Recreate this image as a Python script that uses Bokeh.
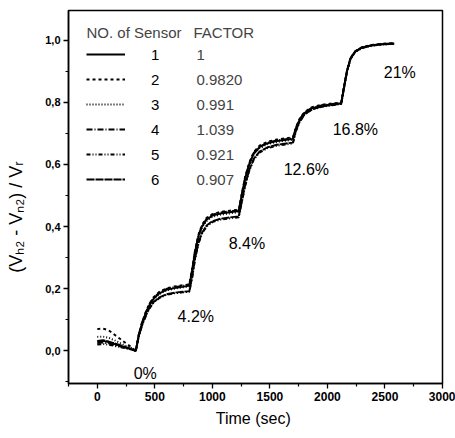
import math
from bokeh.plotting import figure
from bokeh.models import (Label, Legend, LegendItem, FixedTicker, CustomJSTickFormatter,
                          ColumnDataSource, Range1d)
from bokeh.core.properties import value
from bokeh.embed import file_html
from bokeh.resources import INLINE

# ---------------- data ----------------
time_sec = [0, 50, 100, 150, 200, 250, 300, 335,
            360, 390, 420, 450, 490, 540, 600, 670, 740, 800,
            825, 850, 880, 910, 950, 1000, 1070, 1150, 1230,
            1255, 1285, 1320, 1360, 1410, 1480, 1560, 1640, 1700,
            1725, 1760, 1800, 1860, 1950, 2040, 2120,
            2145, 2170, 2200, 2240, 2300, 2380, 2480, 2580]

sensor_1 = [0.030, 0.032, 0.028, 0.022, 0.016, 0.010, 0.005, 0.000,
            0.050, 0.090, 0.120, 0.145, 0.168, 0.185, 0.196, 0.202, 0.206, 0.210,
            0.260, 0.320, 0.370, 0.400, 0.422, 0.435, 0.442, 0.446, 0.450,
            0.500, 0.555, 0.600, 0.635, 0.655, 0.668, 0.675, 0.679, 0.682,
            0.715, 0.745, 0.765, 0.780, 0.789, 0.793, 0.797,
            0.850, 0.900, 0.940, 0.963, 0.976, 0.983, 0.987, 0.989]
sensor_2 = [0.070, 0.072, 0.066, 0.052, 0.038, 0.024, 0.011, 0.000,
            0.052, 0.093, 0.124, 0.150, 0.173, 0.190, 0.201, 0.207, 0.211, 0.214,
            0.265, 0.325, 0.375, 0.405, 0.428, 0.440, 0.447, 0.451, 0.454,
            0.505, 0.560, 0.605, 0.640, 0.660, 0.673, 0.680, 0.684, 0.687,
            0.718, 0.748, 0.768, 0.783, 0.792, 0.796, 0.799,
            0.852, 0.902, 0.942, 0.964, 0.977, 0.984, 0.988, 0.990]
sensor_3 = [0.045, 0.046, 0.042, 0.034, 0.025, 0.016, 0.008, 0.000,
            0.048, 0.088, 0.118, 0.143, 0.166, 0.183, 0.194, 0.200, 0.204, 0.207,
            0.255, 0.315, 0.365, 0.396, 0.418, 0.431, 0.438, 0.442, 0.446,
            0.497, 0.552, 0.597, 0.632, 0.652, 0.665, 0.672, 0.676, 0.679,
            0.712, 0.742, 0.763, 0.778, 0.787, 0.792, 0.796,
            0.849, 0.899, 0.939, 0.962, 0.975, 0.982, 0.986, 0.988]
sensor_4 = [0.025, 0.027, 0.024, 0.019, 0.014, 0.009, 0.004, 0.000,
            0.051, 0.092, 0.122, 0.148, 0.171, 0.188, 0.199, 0.205, 0.209, 0.212,
            0.262, 0.322, 0.372, 0.402, 0.425, 0.438, 0.445, 0.449, 0.452,
            0.502, 0.557, 0.602, 0.637, 0.657, 0.670, 0.677, 0.681, 0.684,
            0.716, 0.746, 0.766, 0.781, 0.790, 0.794, 0.798,
            0.851, 0.901, 0.941, 0.963, 0.976, 0.983, 0.987, 0.989]
sensor_5 = [0.020, 0.022, 0.020, 0.016, 0.012, 0.008, 0.004, 0.000,
            0.045, 0.082, 0.110, 0.134, 0.155, 0.170, 0.180, 0.185, 0.188, 0.190,
            0.235, 0.295, 0.345, 0.377, 0.400, 0.414, 0.422, 0.426, 0.430,
            0.475, 0.530, 0.578, 0.615, 0.638, 0.652, 0.660, 0.664, 0.667,
            0.705, 0.737, 0.759, 0.775, 0.785, 0.790, 0.794,
            0.847, 0.897, 0.938, 0.961, 0.974, 0.982, 0.986, 0.988]
sensor_6 = [0.032, 0.034, 0.030, 0.024, 0.018, 0.012, 0.006, 0.000,
            0.046, 0.084, 0.112, 0.136, 0.157, 0.172, 0.182, 0.187, 0.190, 0.192,
            0.238, 0.298, 0.348, 0.380, 0.403, 0.417, 0.425, 0.429, 0.433,
            0.478, 0.533, 0.581, 0.618, 0.641, 0.655, 0.663, 0.667, 0.670,
            0.707, 0.739, 0.760, 0.776, 0.786, 0.791, 0.795,
            0.848, 0.898, 0.939, 0.962, 0.975, 0.982, 0.986, 0.988]

sensor_ids = ["1", "2", "3", "4", "5", "6"]
factors = ["1", "0.9820", "0.991", "1.039", "0.921", "0.907"]
step_labels = ["0%", "4.2%", "8.4%", "12.6%", "16.8%", "21%"]
step_label_x = [316, 698, 1142, 1620, 2046, 2490]
step_label_y = [-0.074, 0.109, 0.344, 0.582, 0.711, 0.897]

x_major = [0, 500, 1000, 1500, 2000, 2500, 3000]
x_minor = [-250, 250, 750, 1250, 1750, 2250, 2750]
y_major = [0.0, 0.2, 0.4, 0.6, 0.8, 1.0]
y_minor = [-0.1, 0.1, 0.3, 0.5, 0.7, 0.9]

# ---------------- styles ----------------
FONT = "Liberation Sans"
dashes = ["solid", "3 3", "1 2", "6 2 1 2", "4 2 1 2 1 2", "8 1"]

p = figure(width=455, height=438,
           x_range=Range1d(-250, 3000), y_range=Range1d(-0.105, 1.095),
           output_backend="svg", toolbar_location=None,
           min_border_left=68, min_border_right=13, min_border_top=10, min_border_bottom=55)
p.background_fill_color = "white"
p.border_fill_color = "white"
p.outline_line_color = "black"
p.outline_line_width = 1.5
p.xgrid.visible = False
p.ygrid.visible = False

series = [sensor_1, sensor_2, sensor_3, sensor_4, sensor_5, sensor_6]
renderers = []
for vals, dash in zip(series, dashes):
    r = p.line(time_sec, vals, line_color="black", line_width=1.9, line_dash=dash)
    renderers.append(r)

# axes
p.xaxis.ticker = FixedTicker(ticks=x_major, minor_ticks=x_minor)
p.yaxis.ticker = FixedTicker(ticks=y_major, minor_ticks=y_minor)
p.yaxis.formatter = CustomJSTickFormatter(code="return tick.toFixed(1).replace('.', ',');")
for ax in (p.xaxis[0], p.yaxis[0]):
    ax.axis_line_color = "black"
    ax.axis_line_width = 1.5
    ax.major_tick_line_color = "black"
    ax.minor_tick_line_color = "black"
    ax.major_tick_line_width = 1.3
    ax.minor_tick_line_width = 1.2
    ax.major_tick_in = 0
    ax.major_tick_out = 5
    ax.minor_tick_in = 0
    ax.minor_tick_out = 3
    ax.major_label_text_font = FONT
    ax.major_label_text_color = "black"
    ax.major_label_text_font_style = "bold"
    ax.axis_label_text_font = FONT
    ax.axis_label_text_font_style = "normal"
    ax.axis_label_text_color = "black"

p.xaxis.major_label_text_font_size = "12px"
p.xaxis.major_label_standoff = 3
p.yaxis.major_label_text_font_size = "11px"
p.yaxis.major_label_standoff = 3
p.xaxis.axis_label = "Time  (sec)"
p.xaxis.axis_label_text_font_size = "16px"
p.xaxis.axis_label_standoff = 6
p.yaxis.axis_label = "(V\u2095\u2082 - V\u2099\u2082) / V\u1d63" + "\u00a0" * 8
p.yaxis.axis_label_text_font_size = "18px"
p.yaxis.axis_label_standoff = 16

# legend
legend = Legend(items=[LegendItem(label=sid, renderers=[r]) for sid, r in zip(sensor_ids, renderers)],
                location=(18, 194), glyph_width=39, glyph_height=20, label_height=20,
                label_standoff=26, spacing=5, padding=0, margin=0,
                border_line_alpha=0, background_fill_alpha=0,
                label_text_font=FONT, label_text_font_size="15px", label_text_color="black")
p.add_layout(legend)

# legend header and factor column (screen units relative to frame)
p.add_layout(Label(x=18, y=351, x_units="screen", y_units="screen", text="NO. of Sensor",
                   text_font=FONT, text_font_size="15px", text_baseline="middle", text_align="left"))
p.add_layout(Label(x=125, y=351, x_units="screen", y_units="screen", text="FACTOR",
                   text_font=FONT, text_font_size="15px", text_baseline="middle", text_align="left"))
row_sy = [329, 304, 279, 254, 229, 204]
for f, sy in zip(factors, row_sy):
    p.add_layout(Label(x=128, y=sy, x_units="screen", y_units="screen", text=f,
                       text_font=FONT, text_font_size="15px", text_baseline="middle", text_align="left"))

# concentration step labels
src = ColumnDataSource(dict(x=step_label_x, y=step_label_y, t=step_labels))
p.text(x="x", y="y", text="t", source=src, text_font=value(FONT), text_font_size="16px",
       text_baseline="middle", text_align="left", text_color="black")

open("out.html", "w").write(file_html(p, INLINE))
